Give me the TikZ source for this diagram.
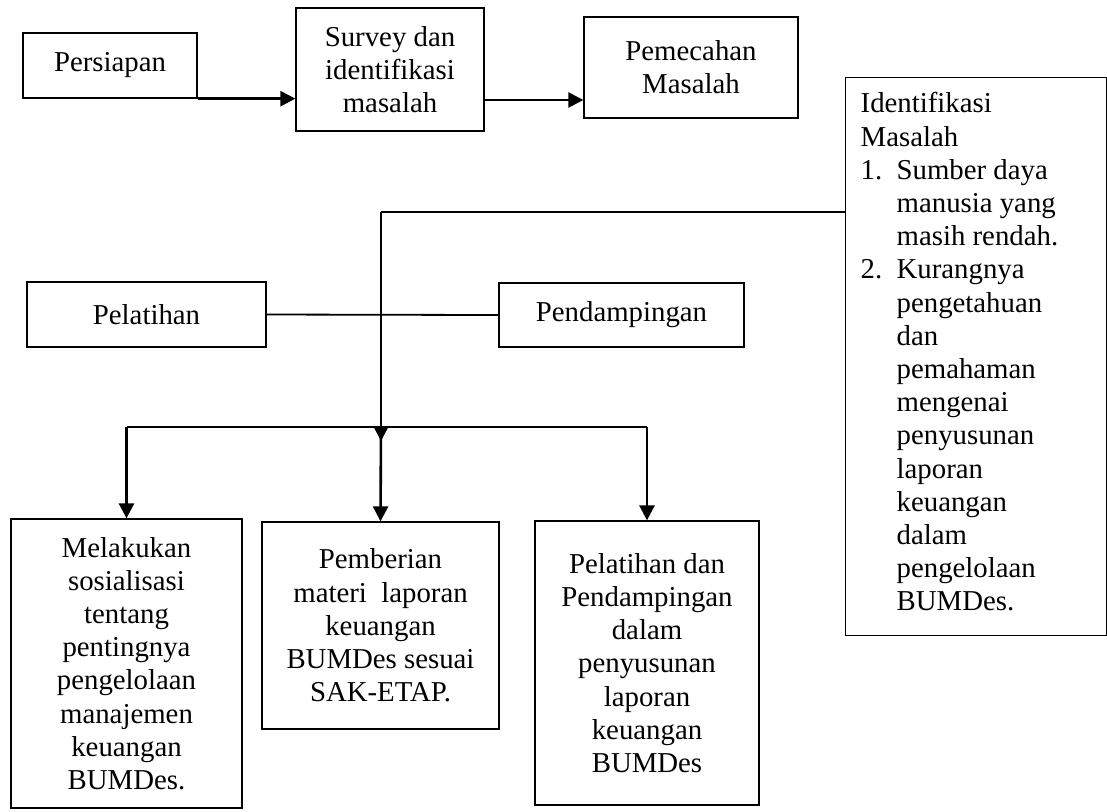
\documentclass[tikz,border=0pt]{standalone}
\usepackage{fontspec}
\setmainfont{Liberation Serif}
\usetikzlibrary{arrows.meta,calc}

\begin{document}
\begin{tikzpicture}[x=0.5pt,y=-0.5pt,>={Triangle[length=7.5pt,width=7.5pt]},
    every node/.style={font=\fontsize{14.4}{16.6}\selectfont},
    kotak/.style={draw,line width=0.65pt,align=center,inner sep=0pt},
    garis/.style={line width=0.9pt},
    panah/.style={->,line width=1.3pt}]
    \useasboundingbox (0,0) rectangle (1107,811);
    % alur atas
    \node[kotak,minimum width=87pt,minimum height=32.5pt] (prs) at (110,65.5) {Persiapan};
    \node[kotak,minimum width=94pt,minimum height=61.5pt] (svy) at (390,69.5) {Survey dan\\identifikasi\\masalah};
    \node[kotak,minimum width=107pt,minimum height=50.5pt] (pmc) at (691,67.5) {Pemecahan\\Masalah};
    \node[kotak,anchor=north west,inner xsep=7.5pt,inner ysep=6pt,align=left] (idm) at (845,77)
      {\parbox[c][267pt][t]{115.5pt}{\raggedright\strut Identifikasi\\
        Masalah\\
        \makebox[18pt][l]{1.}Sumber daya\\
        \hspace*{18pt}manusia yang\\
        \hspace*{18pt}masih rendah.\\
        \makebox[18pt][l]{2.}Kurangnya\\
        \hspace*{18pt}pengetahuan\\
        \hspace*{18pt}dan\\
        \hspace*{18pt}pemahaman\\
        \hspace*{18pt}mengenai\\
        \hspace*{18pt}penyusunan\\
        \hspace*{18pt}laporan\\
        \hspace*{18pt}keuangan\\
        \hspace*{18pt}dalam\\
        \hspace*{18pt}pengelolaan\\
        \hspace*{18pt}BUMDes.}};
    % metode
    \node[kotak,minimum width=119.5pt,minimum height=32.5pt] (plt) at (146.5,314.5) {Pelatihan};
    \node[kotak,minimum width=122.5pt,minimum height=32pt] (pdp) at (621.5,315) {Pendampingan};
    % kegiatan
    \node[kotak,minimum width=115.5pt,minimum height=144.5pt] (mlk) at (126.5,663.5)
      {Melakukan\\sosialisasi\\tentang\\pentingnya\\pengelolaan\\manajemen\\keuangan\\BUMDes.};
    \node[kotak,minimum width=118.5pt,minimum height=103.5pt] (pbr) at (380.5,625.5)
      {Pemberian\\materi\ \ laporan\\keuangan\\BUMDes sesuai\\SAK-ETAP.};
    \node[kotak,minimum width=112pt,minimum height=142pt] (pdd) at (647,663)
      {Pelatihan dan\\Pendampingan\\dalam\\penyusunan\\laporan\\keuangan\\BUMDes};
    \coordinate (siku) at (381,212);
    \coordinate (simpul) at (381,427);
    \draw[panah] (prs.south east) -- (prs.south east -| svy.west);
    \draw[panah] (svy.east |- 0,100) -- (pmc.west |- 0,100);
    \draw[garis] (idm.west |- siku) -- (siku);
    \draw[panah] (siku) -- ($(simpul)+(0,14)$);
    \draw[garis] (plt.east) -- (pdp.west);
    \draw[garis] (mlk.north |- simpul) -- (pdd.north |- simpul);
    \draw[panah] (mlk.north |- simpul) -- (mlk.north);
    \draw[panah] (simpul) -- (pbr.north);
    \draw[panah] (pdd.north |- simpul) -- (pdd.north);
  \end{tikzpicture}
\end{document}
